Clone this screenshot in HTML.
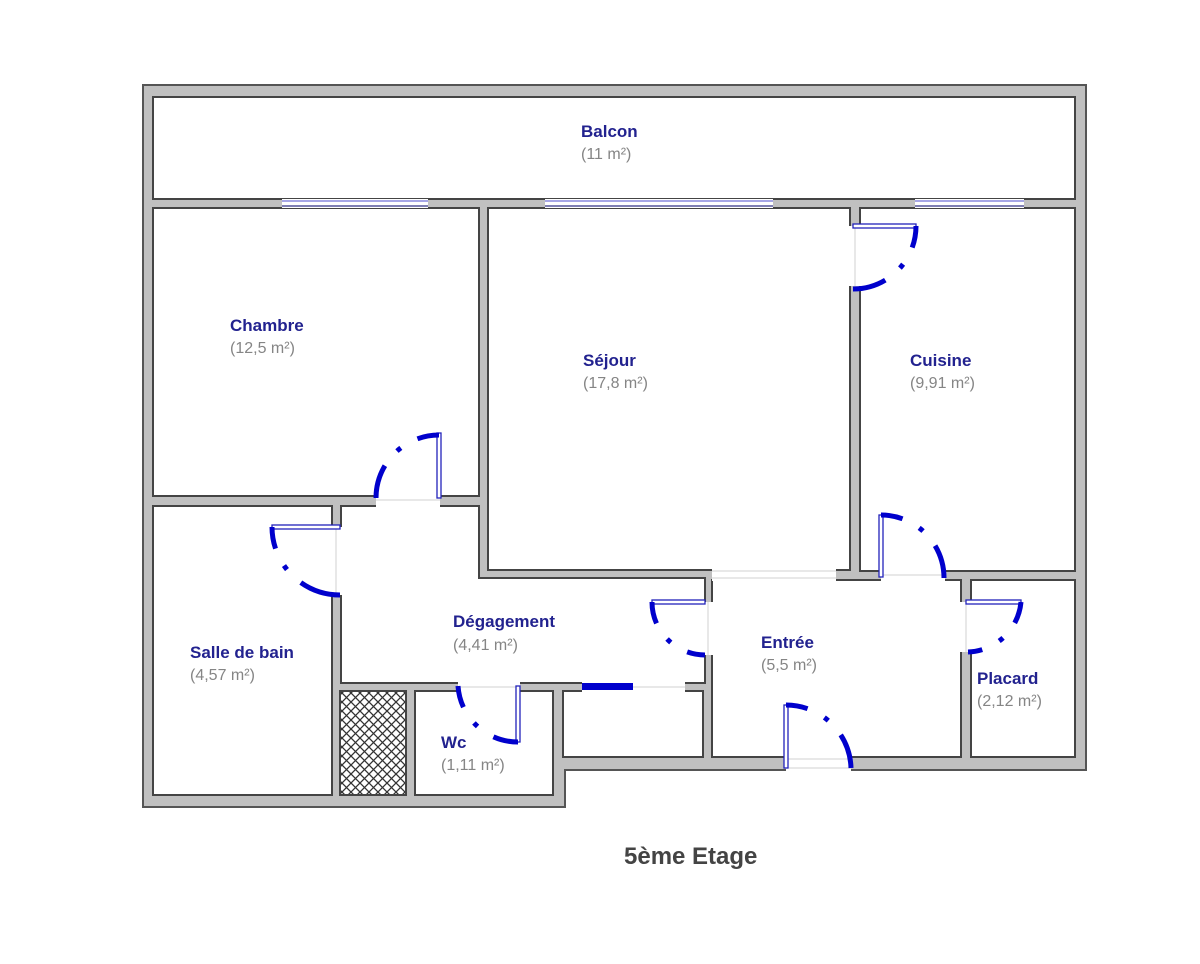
<!DOCTYPE html>
<html><head><meta charset="utf-8"><style>
body{margin:0;background:#fff;}
svg{display:block;}
.l{font-family:"Liberation Sans",Arial,sans-serif;font-size:17px;font-weight:bold;fill:#22228f;}
.a{font-family:"Liberation Sans",Arial,sans-serif;font-size:16px;fill:#858585;}
.arc{fill:none;stroke:#0000cc;stroke-width:5;stroke-dasharray:22 19 5 19 60;}
.leaf{fill:#fff;stroke:#2222bb;stroke-width:1.3;}
.gap{fill:#fff;}
.gl{stroke:#d0d0d0;stroke-width:1;}
</style></head><body>
<svg width="1200" height="964" viewBox="0 0 1200 964" xmlns="http://www.w3.org/2000/svg">
<defs>
<pattern id="h" width="9" height="9" patternUnits="userSpaceOnUse">
<rect width="9" height="9" fill="#fff"/>
<path d="M0 0L9 9M9 0L0 9" stroke="#333" stroke-width="1.3"/>
</pattern>
</defs>
<polygon points="143,85 1086,85 1086,770 565,770 565,807 143,807" fill="#c0c0c0" stroke="#555" stroke-width="2"/>
<g fill="#fff" stroke="#444" stroke-width="2">
<rect x="153" y="97" width="922" height="102"/>
<rect x="153" y="208" width="326" height="288"/>
<rect x="488" y="208" width="362" height="362"/>
<rect x="860" y="208" width="215" height="363"/>
<rect x="153" y="506" width="179" height="289"/>
<polygon points="341,506 479,506 479,578 705,578 705,683 341,683"/>
<rect x="415" y="691" width="138" height="104"/>
<rect x="563" y="691" width="140" height="66"/>
<rect x="712" y="580" width="249" height="177"/>
<rect x="971" y="580" width="104" height="177"/>
</g>
<rect x="340" y="691" width="66" height="104" fill="url(#h)" stroke="#444" stroke-width="2"/>

<g>
<rect x="282" y="199" width="146" height="9" class="gap"/>
<line x1="282" y1="201" x2="428" y2="201" stroke="#8888dd" stroke-width="1.5"/>
<line x1="282" y1="206" x2="428" y2="206" stroke="#333388" stroke-width="1.2"/>
<rect x="545" y="199" width="228" height="9" class="gap"/>
<line x1="545" y1="201" x2="773" y2="201" stroke="#8888dd" stroke-width="1.5"/>
<line x1="545" y1="206" x2="773" y2="206" stroke="#333388" stroke-width="1.2"/>
<rect x="915" y="199" width="109" height="9" class="gap"/>
<line x1="915" y1="201" x2="1024" y2="201" stroke="#8888dd" stroke-width="1.5"/>
<line x1="915" y1="206" x2="1024" y2="206" stroke="#333388" stroke-width="1.2"/>
</g>

<rect x="376" y="495" width="64" height="12" class="gap"/>
<line x1="376" y1="500" x2="440" y2="500" class="gl"/>
<rect x="331" y="527" width="11" height="68" class="gap"/>
<line x1="336" y1="527" x2="336" y2="595" class="gl"/>
<rect x="849" y="226" width="12" height="60" class="gap"/>
<line x1="855" y1="226" x2="855" y2="286" class="gl"/>
<rect x="712" y="569" width="124" height="12" class="gap"/>
<line x1="712" y1="571" x2="836" y2="571" class="gl"/><line x1="712" y1="578" x2="836" y2="578" class="gl"/>
<rect x="881" y="570" width="64" height="11" class="gap"/>
<line x1="881" y1="575" x2="945" y2="575" class="gl"/>
<rect x="704" y="602" width="9" height="53" class="gap"/>
<line x1="708" y1="602" x2="708" y2="655" class="gl"/>
<rect x="960" y="602" width="12" height="50" class="gap"/>
<line x1="966" y1="602" x2="966" y2="652" class="gl"/>
<rect x="786" y="756" width="65" height="15" class="gap"/>
<line x1="786" y1="759" x2="851" y2="759" class="gl"/><line x1="786" y1="768" x2="851" y2="768" class="gl"/>
<rect x="458" y="682" width="62" height="10" class="gap"/>
<line x1="458" y1="687" x2="520" y2="687" class="gl"/>
<rect x="582" y="682" width="103" height="10" class="gap"/>
<line x1="582" y1="687" x2="685" y2="687" class="gl"/>
<rect x="582" y="683" width="51" height="7" fill="#0000cc"/>

<rect x="437" y="433" width="4" height="65" class="leaf"/>
<path d="M439,435 A63,63 0 0 0 376,498" class="arc"/>
<rect x="272" y="525" width="68" height="4" class="leaf"/>
<path d="M272,527 A68,68 0 0 0 340,595" class="arc"/>
<rect x="853" y="224" width="63" height="4" class="leaf"/>
<path d="M916,226 A63,63 0 0 1 853,289" class="arc"/>
<rect x="879" y="515" width="4" height="62" class="leaf"/>
<path d="M881,515 A63,63 0 0 1 944,578" class="arc"/>
<rect x="652" y="600" width="53" height="4" class="leaf"/>
<path d="M652,602 A53,53 0 0 0 705,655" class="arc"/>
<rect x="966" y="600" width="55" height="4" class="leaf"/>
<path d="M1021,602 A55,55 0 0 1 968,652" class="arc"/>
<rect x="784" y="705" width="4" height="63" class="leaf"/>
<path d="M786,705 A65,65 0 0 1 851,768" class="arc"/>
<rect x="516" y="686" width="4" height="56" class="leaf"/>
<path d="M458,686 A60,60 0 0 0 518,742" class="arc"/>

<text x="581" y="137" class="l">Balcon</text><text x="581" y="159" class="a">(11 m²)</text>
<text x="230" y="331" class="l">Chambre</text><text x="230" y="353" class="a">(12,5 m²)</text>
<text x="583" y="366" class="l">Séjour</text><text x="583" y="388" class="a">(17,8 m²)</text>
<text x="910" y="366" class="l">Cuisine</text><text x="910" y="388" class="a">(9,91 m²)</text>
<text x="190" y="658" class="l">Salle de bain</text><text x="190" y="680" class="a">(4,57 m²)</text>
<text x="453" y="627" class="l">Dégagement</text><text x="453" y="650" class="a">(4,41 m²)</text>
<text x="761" y="648" class="l">Entrée</text><text x="761" y="670" class="a">(5,5 m²)</text>
<text x="977" y="684" class="l">Placard</text><text x="977" y="706" class="a">(2,12 m²)</text>
<text x="441" y="748" class="l">Wc</text><text x="441" y="770" class="a">(1,11 m²)</text>
<text x="624" y="864" font-family="Liberation Sans,Arial,sans-serif" font-size="24" font-weight="bold" fill="#444">5ème Etage</text>
</svg>
</body></html>
